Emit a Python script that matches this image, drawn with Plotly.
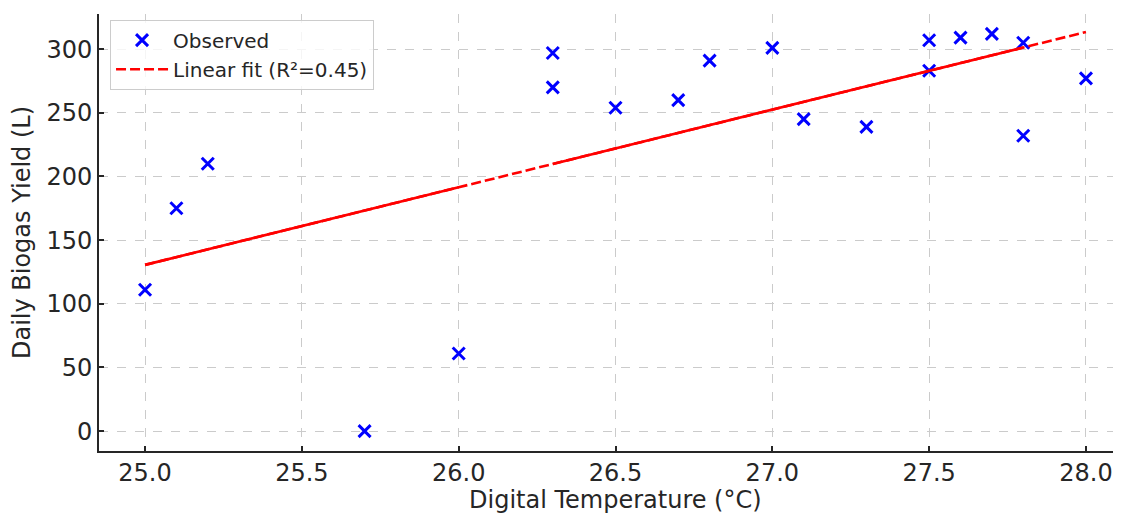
import numpy as np
import plotly.graph_objects as go

temperature = [25.0, 25.1, 25.2, 25.7, 26.0, 26.3, 26.3, 26.5, 26.7, 26.8,
               27.0, 27.1, 27.3, 27.5, 27.5, 27.6, 27.7, 27.8, 27.8, 28.0]
biogas_yield = [111, 175, 210, 0, 61, 297, 270, 254, 260, 291,
                301, 245, 239, 307, 283, 309, 312, 305, 232, 277]

# portions of the fitted line that render as solid in the reference
solid_fit_x = [25.0, 26.0, None, 26.3, 27.8]

x_ticks = [25.0, 25.5, 26.0, 26.5, 27.0, 27.5, 28.0]
y_ticks = [0, 50, 100, 150, 200, 250, 300]

x_title = "Digital Temperature (°C)"
y_title = "Daily Biogas Yield (L)"

x = np.array(temperature, dtype=float)
y = np.array(biogas_yield, dtype=float)
slope, intercept = np.polyfit(x, y, 1)
pred = slope * x + intercept
r2 = 1 - np.sum((y - pred) ** 2) / np.sum((y - y.mean()) ** 2)

fit_x = [x.min(), x.max()]
fit_y = [slope * v + intercept for v in fit_x]
solid_y = [None if v is None else slope * v + intercept for v in solid_fit_x]

TEXT = "#262626"
FONT = "DejaVu Sans"

fig = go.Figure()
fig.add_trace(go.Scatter(
    x=temperature, y=biogas_yield, mode="markers", name="Observed",
    marker=dict(symbol="x-thin", size=12, color="#0000ff",
                line=dict(color="#0000ff", width=3)),
))
fig.add_trace(go.Scatter(
    x=fit_x, y=fit_y, mode="lines", name=f"Linear fit (R²={r2:.2f})",
    line=dict(color="#ff0000", width=2.6, dash="10px,4px"),
))
fig.add_trace(go.Scatter(
    x=solid_fit_x, y=solid_y, mode="lines", showlegend=False,
    line=dict(color="#ff0000", width=2.6), connectgaps=False, hoverinfo="skip",
))

x0 = 25.0 - 46 / 313.33
x1 = 28.0 + 35 / 313.33

fig.update_layout(
    width=1113, height=505,
    margin=dict(l=91, r=0, t=6, b=62),
    paper_bgcolor="white", plot_bgcolor="white",
    font=dict(family=FONT, color=TEXT, size=24),
    showlegend=True,
    legend=dict(
        x=0.0108, y=0.987, xanchor="left", yanchor="top",
        bgcolor="rgba(255,255,255,0.8)", bordercolor="#cccccc", borderwidth=1,
        font=dict(size=20, color=TEXT, family=FONT),
        itemwidth=52,
    ),
    xaxis=dict(
        range=[x0, x1], tickvals=x_ticks, ticktext=[f"{v:.1f}" for v in x_ticks],
        showline=True, linecolor=TEXT, linewidth=2, mirror=False,
        ticks="inside", ticklen=5, tickwidth=1.5, tickcolor=TEXT,
        showgrid=True, gridcolor="#cbcbcb", gridwidth=1, griddash="dash",
        zeroline=False, automargin=False, ticklabelstandoff=-1,
        tickfont=dict(size=24, color=TEXT, family=FONT),
    ),
    yaxis=dict(
        range=[-15.6, 327.6], tickvals=y_ticks,
        showline=True, linecolor=TEXT, linewidth=2, mirror=False,
        ticks="inside", ticklen=5, tickwidth=1.5, tickcolor=TEXT,
        showgrid=True, gridcolor="#cbcbcb", gridwidth=1, griddash="dash",
        zeroline=False, automargin=False, ticklabelstandoff=0,
        tickfont=dict(size=24, color=TEXT, family=FONT),
        title=dict(text=y_title, font=dict(size=24, color=TEXT, family=FONT), standoff=12),
    ),
    annotations=[dict(
        text=x_title, xref="x", yref="paper",
        x=(x_ticks[0] + x_ticks[-1]) / 2, y=-0.112,
        xanchor="center", yanchor="middle", showarrow=False,
        font=dict(size=24, color=TEXT, family=FONT),
    )],
)

fig.write_html("out.html")
